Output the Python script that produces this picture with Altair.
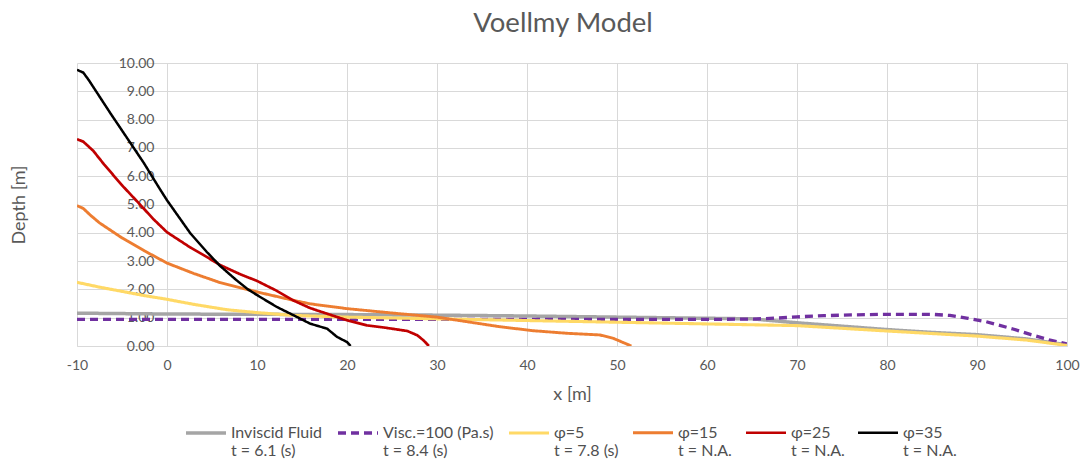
import altair as alt
import pandas as pd

FONT = "Lato"
TXT = "#595959"
GRID = "#D9D9D9"

series = ["Inviscid Fluid", "Visc.=100 (Pa.s)", "φ=5", "φ=15", "φ=25", "φ=35"]
times = ["t = 6.1 (s)", "t = 8.4 (s)", "t = 7.8 (s)", "t = N.A.", "t = N.A.", "t = N.A."]
colors = ["#A5A5A5", "#7030A0", "#FFD966", "#ED7D31", "#C00000", "#000000"]
dashes = [[1, 0], [8, 5], [1, 0], [1, 0], [1, 0], [1, 0]]
widths = [3.5, 2.5, 2.5, 2.5, 2.5, 2.5]

inviscid_x = [-10, 0, 10, 20, 30, 40, 50, 60, 65, 70, 75, 80, 85, 90, 95.5, 100]
inviscid_y = [1.16, 1.13, 1.12, 1.11, 1.09, 1.06, 1.02, 0.98, 0.96, 0.82, 0.70, 0.58, 0.48, 0.40, 0.25, 0.04]

visc_x = [-10, 0, 10, 20, 30, 40, 50, 60, 65, 68, 70, 73, 76, 80, 85, 87, 89, 91, 94, 96, 98, 100]
visc_y = [0.94, 0.94, 0.94, 0.94, 0.94, 0.94, 0.94, 0.94, 0.95, 0.99, 1.03, 1.07, 1.10, 1.12, 1.12, 1.08, 0.98, 0.86, 0.60, 0.40, 0.22, 0.07]

phi5_x = [-10, -7.5, -5, -2.5, 0, 3, 6.7, 10, 14.1, 20, 30, 40, 50, 60, 70, 80, 90, 95.5, 100]
phi5_y = [2.25, 2.08, 1.93, 1.78, 1.65, 1.47, 1.28, 1.18, 1.08, 1.02, 0.96, 0.90, 0.84, 0.78, 0.72, 0.53, 0.35, 0.21, 0.02]

phi15_x = [-10, -9.3, -8.5, -7.5, -5, -2.5, 0, 3, 5.9, 10, 14.1, 15.9, 20, 25.2, 30, 33.3, 37, 40.7, 44.4, 48.1, 49.6, 50.7, 51.6]
phi15_y = [4.96, 4.86, 4.62, 4.35, 3.82, 3.36, 2.93, 2.56, 2.24, 1.91, 1.61, 1.49, 1.32, 1.16, 1.02, 0.86, 0.68, 0.54, 0.45, 0.39, 0.27, 0.12, 0.0]

phi25_x = [-10, -9.3, -8.2, -7, -5, -3, -1.5, 0, 2.6, 4.4, 5.9, 8.1, 10, 12.2, 14.1, 15.9, 17.8, 20, 22.2, 24.4, 26.7, 27.8, 28.5, 29.1]
phi25_y = [7.31, 7.22, 6.90, 6.42, 5.68, 5.00, 4.48, 4.02, 3.48, 3.15, 2.86, 2.54, 2.30, 1.95, 1.60, 1.34, 1.14, 0.91, 0.73, 0.64, 0.53, 0.38, 0.20, 0.0]

phi35_x = [-10, -9.3, -8.7, -6.3, -4.5, -2.6, -0.8, 0, 2.6, 4.4, 5.9, 7.7, 9.0, 10, 12.2, 14.1, 15.9, 17.8, 18.9, 20, 20.4]
phi35_y = [9.76, 9.66, 9.40, 8.23, 7.38, 6.48, 5.55, 5.15, 3.98, 3.33, 2.83, 2.33, 2.00, 1.80, 1.38, 1.08, 0.79, 0.61, 0.32, 0.14, 0.0]

all_x = [inviscid_x, visc_x, phi5_x, phi15_x, phi25_x, phi35_x]
all_y = [inviscid_y, visc_y, phi5_y, phi15_y, phi25_y, phi35_y]

labels = [f"{s}|{t}" for s, t in zip(series, times)]

rows = []
for lab, xs, ys in zip(labels, all_x, all_y):
    for xv, yv in zip(xs, ys):
        rows.append({"series": lab, "x": xv, "y": yv})
df = pd.DataFrame(rows)

legend = alt.Legend(
    title=None, orient="none", legendX=107, legendY=348,
    direction="horizontal", columns=6, symbolType="stroke", symbolSize=1600,
    labelExpr="split(datum.label, '|')", labelFont=FONT, labelFontSize=16,
    labelColor="#505050", labelOffset=3, columnPadding=8, labelLimit=300,
    labelBaseline="middle",
)

chart = alt.Chart(df).mark_line(clip=True).encode(
    x=alt.X("x:Q", scale=alt.Scale(domain=[-10, 100], nice=False, zero=False),
            axis=alt.Axis(values=list(range(-10, 101, 10)), title="x [m]",
                          labelExpr="'' + datum.value", labelFlush=False,
                          labelFont=FONT, labelFontSize=14, labelColor=TXT,
                          labelPadding=12, ticks=False, tickSize=0,
                          domainColor=GRID, gridColor=GRID,
                          titleFont=FONT, titleFontSize=18, titleColor=TXT,
                          titleFontWeight="normal", titleY=48, titleBaseline="middle")),
    y=alt.Y("y:Q", scale=alt.Scale(domain=[0, 10], nice=False),
            axis=alt.Axis(values=list(range(0, 11)), format=".2f", title="Depth [m]",
                          offset=-90, domain=False, ticks=False, tickSize=0, labelFlush=False,
                          labelPadding=13, labelFont=FONT, labelFontSize=14, labelColor=TXT,
                          gridColor=GRID,
                          titleFont=FONT, titleFontSize=18, titleColor=TXT,
                          titleFontWeight="normal", titleX=-148, titleY=141.5,
                          titleAngle=-90, titleBaseline="middle", titleAlign="center")),
    color=alt.Color("series:N", scale=alt.Scale(domain=labels, range=colors), legend=legend),
    strokeDash=alt.StrokeDash("series:N", scale=alt.Scale(domain=labels, range=dashes), legend=legend),
    strokeWidth=alt.StrokeWidth("series:N", scale=alt.Scale(domain=labels, range=widths), legend=legend),
).properties(
    width=990, height=283,
    title=alt.TitleParams("Voellmy Model", font=FONT, fontSize=27.5, color=TXT,
                          fontWeight="normal", anchor="middle", offset=19, dx=-9),
    padding={"left": 77, "top": 63, "right": 13, "bottom": 117},
    autosize=alt.AutoSizeParams(type="none"),
).configure_view(stroke=None)

chart.save("out.html", embed_options={"renderer": "svg", "actions": False})
